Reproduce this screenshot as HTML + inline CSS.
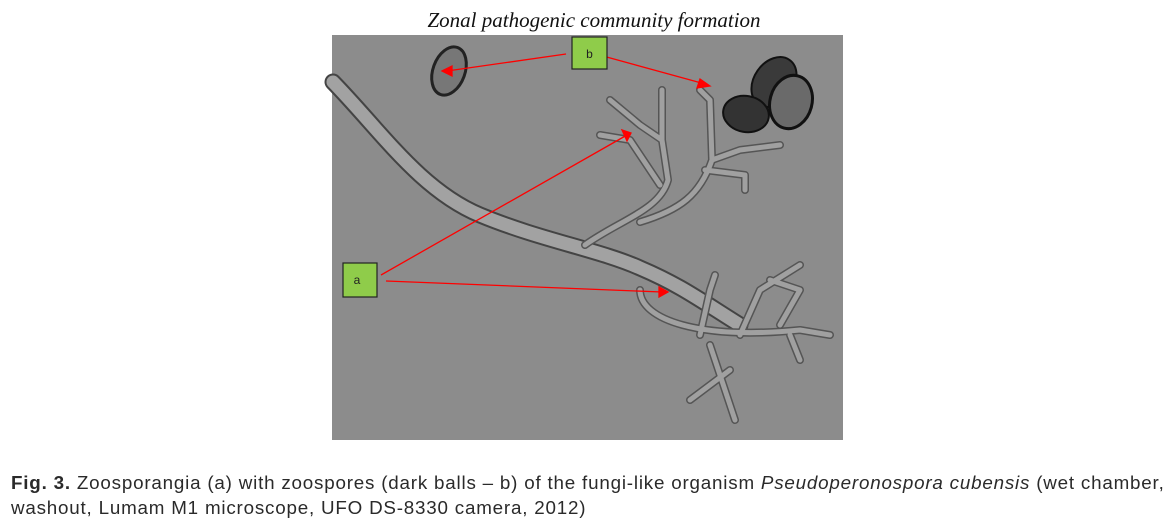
<!DOCTYPE html>
<html><head><meta charset="utf-8"><style>
body{margin:0;width:1172px;height:521px;background:#fff;overflow:hidden;position:relative;font-family:"Liberation Sans",sans-serif}
.t{position:absolute;left:0;width:1172px;top:8px;text-align:center;font-family:"Liberation Serif",serif;font-style:italic;font-size:21px;color:#111;padding-left:8px}
.cap{position:absolute;left:11px;top:470px;width:1160px;font-size:18.8px;letter-spacing:0.8px;line-height:25px;color:#2a2a2a;white-space:nowrap}
</style></head><body>
<div class="t">Zonal pathogenic community formation</div>
<svg style="position:absolute;left:0;top:0" width="1172" height="521">
<rect x="332" y="35" width="511" height="405" fill="#8c8c8c"/>
<g fill="none" stroke-linecap="round" stroke-linejoin="round">
<g stroke="#444" stroke-width="17">
<path d="M333 82 C380 130 420 190 480 215 C540 240 600 250 640 268 C680 285 700 300 740 325"/>
</g>
<g stroke="#a2a2a2" stroke-width="13">
<path d="M333 82 C380 130 420 190 480 215 C540 240 600 250 640 268 C680 285 700 300 740 325"/>
</g>
<g stroke="#555" stroke-width="8">
<path d="M585 245 C620 220 660 210 668 180 L662 140 L662 90"/>
<path d="M662 140 L640 125 L610 100"/>
<path d="M660 185 L630 140 L600 135"/>
<path d="M640 222 C680 210 700 195 712 160 L710 100 L700 90"/>
<path d="M712 160 L740 150 L780 145"/>
<path d="M705 170 L745 175 L745 190"/>
<path d="M640 290 C640 320 700 340 800 330 L830 335"/>
<path d="M700 335 L710 290 L715 275"/>
<path d="M740 335 L760 290 L800 265"/>
<path d="M710 345 L735 420"/>
<path d="M730 370 L690 400"/>
<path d="M780 325 L800 290 L770 280"/>
<path d="M790 335 L800 360"/>
</g>
<g stroke="#a0a0a0" stroke-width="5">
<path d="M585 245 C620 220 660 210 668 180 L662 140 L662 90"/>
<path d="M662 140 L640 125 L610 100"/>
<path d="M660 185 L630 140 L600 135"/>
<path d="M640 222 C680 210 700 195 712 160 L710 100 L700 90"/>
<path d="M712 160 L740 150 L780 145"/>
<path d="M705 170 L745 175 L745 190"/>
<path d="M640 290 C640 320 700 340 800 330 L830 335"/>
<path d="M700 335 L710 290 L715 275"/>
<path d="M740 335 L760 290 L800 265"/>
<path d="M710 345 L735 420"/>
<path d="M730 370 L690 400"/>
<path d="M780 325 L800 290 L770 280"/>
<path d="M790 335 L800 360"/>
</g>
</g>
<ellipse cx="449" cy="71" rx="16" ry="25" transform="rotate(20 449 71)" fill="#777" stroke="#222" stroke-width="3"/>
<ellipse cx="774" cy="82" rx="20" ry="27" transform="rotate(35 774 82)" fill="#3a3a3a" stroke="#111" stroke-width="2"/>
<ellipse cx="791" cy="102" rx="21" ry="27" transform="rotate(15 791 102)" fill="#6a6a6a" stroke="#111" stroke-width="3"/>
<ellipse cx="746" cy="114" rx="23" ry="18" transform="rotate(10 746 114)" fill="#333" stroke="#111" stroke-width="2"/>
<g stroke="#f00" stroke-width="1.3" fill="#f00">
<line x1="566" y1="54" x2="447" y2="71"/><polygon points="442,71 452,66 452,76"/>
<line x1="603" y1="56" x2="705" y2="84"/><polygon points="710,86 700,79 697,88"/>
<line x1="381" y1="275" x2="627" y2="135"/><polygon points="631,133 622,130 627,141"/>
<line x1="386" y1="281" x2="662" y2="292"/><polygon points="668,292 659,287 659,297"/>
</g>
<rect x="572" y="37" width="35" height="32" fill="#8fcc4a" stroke="#222" stroke-width="1.2"/>
<text x="589.5" y="58" font-size="12" text-anchor="middle" fill="#222" font-family="Liberation Sans">b</text>
<rect x="343" y="263" width="34" height="34" fill="#8fcc4a" stroke="#222" stroke-width="1.2"/>
<text x="357" y="284" font-size="12" text-anchor="middle" fill="#222" font-family="Liberation Sans">a</text>
</svg>
<div class="cap"><b>Fig. 3.</b> Zoosporangia (a) with zoospores (dark balls – b) of the fungi-like organism <i>Pseudoperonospora cubensis</i> (wet chamber,<br>washout, Lumam M1 microscope, UFO DS-8330 camera, 2012)</div>
</body></html>
